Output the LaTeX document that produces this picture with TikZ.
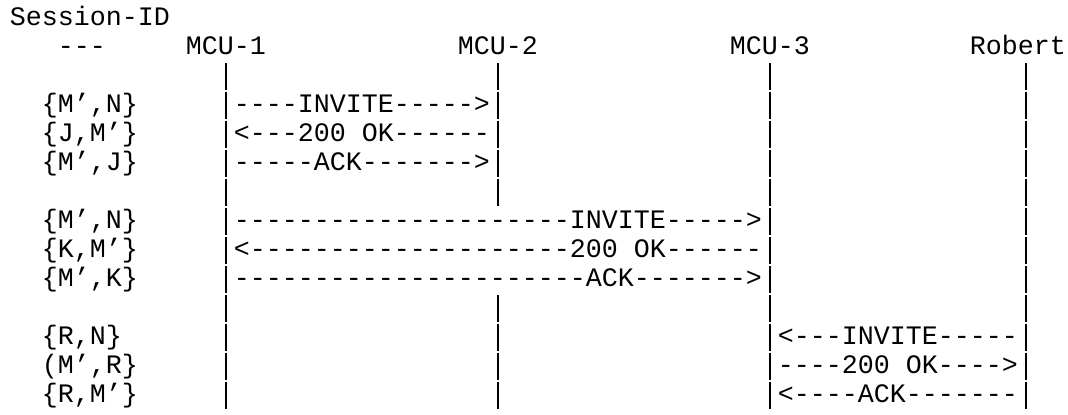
\documentclass[tikz,border=0pt]{standalone}
\usepackage{fontspec}
\setmonofont{Liberation Mono}

\begin{document}
\begin{tikzpicture}
[x=0.5pt,y=-0.5pt,%
  every node/.style={inner sep=0pt,anchor=base west,%
    font=\ttfamily\fontsize{13.33}{14.5}\selectfont},%
  life/.style={line width=0.7pt,dash pattern=on 13.5pt off 1pt}]
\useasboundingbox (0,0) rectangle (1068,414);
\node (sid) at (9.5,25.5) {Session-ID};
%%
\node (sep) at (57.5,54.5) {---};
\node (mcuA) at (185.5,54.5) {MCU-1};
\node (mcuB) at (457.5,54.5) {MCU-2};
\node (mcuC) at (729.5,54.5) {MCU-3};
\node (rob) at (969.5,54.5) {Robert};
\coordinate (robX) at ([xshift=4pt]rob.center);
%%
\node (idA) at (41.5,112.5) {\{M’,N\}};
\node (invA) at (233.5,112.5) {----INVITE----->};
\node (idB) at (41.5,141.5) {\{J,M’\}};
\node (okA) at (233.5,141.5) {<---200 OK------};
\node (idC) at (41.5,170.5) {\{M’,J\}};
\node (ackA) at (233.5,170.5) {-----ACK------->};
%%
\node (idD) at (41.5,228.5) {\{M’,N\}};
\node (invB) at (233.5,228.5) {---------------------INVITE----->};
\node (idE) at (41.5,257.5) {\{K,M’\}};
\node (okB) at (233.5,257.5) {<--------------------200 OK------};
\node (idF) at (41.5,286.5) {\{M’,K\}};
\node (ackB) at (233.5,286.5) {----------------------ACK------->};
%%
\node (idG) at (41.5,344.5) {\{R,N\}};
\node (invC) at (777.5,344.5) {<---INVITE-----};
\node (idH) at (41.5,373.5) {(M’,R\}};
\node (okC) at (777.5,373.5) {----200 OK---->};
\node (idI) at (41.5,402.5) {\{R,M’\}};
\node (ackC) at (777.5,402.5) {<----ACK-------};
%%
\coordinate (top) at (0,62.5);
\coordinate (gapA) at (0,205.5);
\coordinate (gapB) at (0,294.5);
\coordinate (bot) at (0,408.5);
\path
\foreach \lane in {mcuA, mcuC, robX}
{
  (\lane |- top) edge[life] (\lane |- bot)
};
\path
\foreach \startNode/\endNode in {top/gapA, gapB/bot}
{
  (mcuB |- \startNode) edge[life] (mcuB |- \endNode)
};
\end{tikzpicture}
\end{document}
